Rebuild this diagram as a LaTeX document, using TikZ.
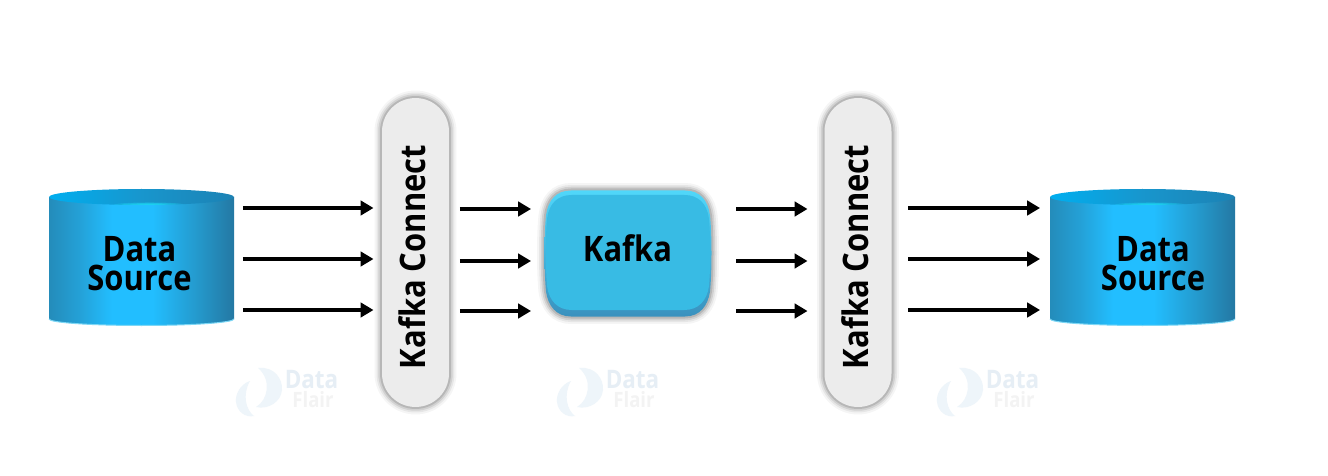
\documentclass[tikz,border=0pt]{standalone}
\usepackage{fontspec}
\setmainfont{Open Sans}[FakeStretch=.88]
\usepackage{tikz}
\usetikzlibrary{arrows.meta,positioning}
\definecolor{PillGrey}{RGB}{236,236,236}
\definecolor{KafkaFace}{RGB}{56,187,228}
\definecolor{KafkaTop}{RGB}{80,215,250}
\definecolor{KafkaLow}{RGB}{58,145,190}
\definecolor{MarkBlue}{RGB}{238,245,250}
\definecolor{MarkWord}{RGB}{230,238,245}
\definecolor{MarkGrey}{RGB}{243,243,243}
\definecolor{RimLight}{RGB}{125,215,245}
\definecolor{CylGlow}{RGB}{30,228,252}
\pgfdeclarehorizontalshading{cylbody}{100bp}{color(0bp)=(rgb,255:red,36;green,140;blue,186);color(25bp)=(rgb,255:red,36;green,140;blue,186);color(33bp)=(rgb,255:red,36;green,160;blue,214);color(42bp)=(rgb,255:red,34;green,190;blue,255);color(53bp)=(rgb,255:red,34;green,190;blue,255);color(66bp)=(rgb,255:red,36;green,150;blue,200);color(75bp)=(rgb,255:red,36;green,120;blue,163);color(100bp)=(rgb,255:red,36;green,120;blue,163)}
\pgfdeclarehorizontalshading{cyltop}{100bp}{color(0bp)=(rgb,255:red,0;green,174;blue,239);color(25bp)=(rgb,255:red,0;green,174;blue,239);color(50bp)=(rgb,255:red,24;green,150;blue,205);color(75bp)=(rgb,255:red,28;green,130;blue,180);color(100bp)=(rgb,255:red,28;green,130;blue,180)}
\newcommand{\kafkaoutline}{(57,-63) .. controls (72,-63) and (80,-53) .. (82,-38) .. controls (84,-18) and (84,17) .. (82,38) .. controls (80,52) and (72,63) .. (57,63) -- (-57,63) .. controls (-72,63) and (-80,52) .. (-82,38) .. controls (-84,17) and (-84,-18) .. (-82,-38) .. controls (-80,-53) and (-72,-63) .. (-57,-63) -- cycle}
\tikzset{
  softhalo/.style={
    preaction={draw=black,draw opacity=.04,line width=3mm},
    preaction={draw=black,draw opacity=.06,line width=2.2mm},
    preaction={draw=black,draw opacity=.09,line width=1.5mm},
    preaction={draw=black,draw opacity=.12,line width=.8mm}},
  pill/.style={rectangle,rounded corners=.67cm,fill=PillGrey,softhalo,minimum width=1.34cm,minimum height=6.18cm,inner sep=0pt,outer sep=0pt},
  bigword/.style={font=\fontsize{20}{16.5}\selectfont\bfseries,align=center,inner sep=0pt,outer sep=0pt},
  holder/.style={rectangle,minimum width=3.7cm,minimum height=2.72cm,inner sep=0pt,outer sep=0pt},
  flow/.style={line width=.7mm,-{Triangle[length=2.6mm,width=2.9mm]}},
  markword/.style={font=\fontsize{14.5}{14.5}\selectfont\bfseries,inner sep=0pt},
  marksmall/.style={font=\fontsize{12}{12}\selectfont\bfseries,inner sep=0pt}
}
\begin{document}
\begin{tikzpicture}[x=.02cm,y=-.02cm]
  \useasboundingbox (0,0) rectangle (1328,476);
  \fill[white] (0,0) rectangle (1328,476);
  \foreach \i/\dx in {1/0,2/321,3/701}{
    \begin{scope}[shift={(\dx,0)}]
      \fill[MarkBlue] (258,368) .. controls (275,366) and (283,380) .. (282,390) .. controls (281,402) and (268,410) .. (256,407) .. controls (268,400) and (272,380) .. (258,368) -- cycle;
      \fill[MarkBlue] (250,381) .. controls (240,384) and (235,395) .. (236,402) .. controls (237,412) and (246,418) .. (254,416) .. controls (246,410) and (242,395) .. (250,381) -- cycle;
      \node[markword,MarkWord] (markdata\i) at (311.5,379.5){Data};
      \node[marksmall,MarkGrey] (markflair\i) at (313,400){Flair};
    \end{scope}
  }
  \foreach \nm/\cx/\tx in {sourceL/141.5/139.5,sourceR/1142.5/1153}{
    \begin{scope}[shift={(\cx,0)}]
      \shade[shading=cylbody] (-92.5,197) -- (-92.5,319) .. controls (-92.5,322.6) and (-51,325.5) .. (0,325.5) .. controls (51,325.5) and (92.5,322.6) .. (92.5,319) -- (92.5,197) -- cycle;
      \draw[RimLight,line width=.2mm] (-92.5,319) .. controls (-92.5,322.6) and (-51,325.5) .. (0,325.5) .. controls (51,325.5) and (92.5,322.6) .. (92.5,319);
      \shade[shading=cyltop] (0,197) ellipse (92.5 and 8);
      \begin{scope}
        \clip (0,197) ellipse (92.5 and 8);
        \foreach \r in {12,20,28,36}{\fill[CylGlow,opacity=.3] (8,205) ellipse ({\r} and {\r*.07});}
      \end{scope}
    \end{scope}
    \node[holder] (\nm) at (\cx,257){};
    \node[bigword] (\nm word) at (\tx,264){Data\\Source};
  }
  \foreach \nm/\cx in {connectL/415.5,connectR/858}{
    \node[pill] (\nm) at (\cx,252.5){};
    \node[bigword,rotate=90] (\nm word) at (\cx-3,257){Kafka Connect};
  }
  \begin{scope}[shift={(628,253.5)}]
    \shade[softhalo,top color=KafkaTop,bottom color=KafkaLow] \kafkaoutline;
    \begin{scope}[shift={(0,-1)},yscale=.913,xscale=.985]
      \fill[KafkaFace] \kafkaoutline;
    \end{scope}
  \end{scope}
  \node[bigword,minimum width=3.4cm] (kafka) at (627.5,248){Kafka};
  \foreach \y in {208,259,310}{
    \draw[flow,shorten <=1.8mm,shorten >=1.7mm] (sourceL.east |- 0,\y) -- (connectL.west |- 0,\y);
    \draw[flow,shorten <=3.3mm,shorten >=2mm] (connectR.east |- 0,\y) -- (sourceR.west |- 0,\y);
  }
  \foreach \y in {209,261,311}{
    \draw[flow,shorten <=2.2mm,shorten >=2.3mm] (connectL.east |- 0,\y) -- (kafka.west |- 0,\y);
    \draw[flow,shorten <=4.8mm,shorten >=3.4mm] (kafka.east |- 0,\y) -- (connectR.west |- 0,\y);
  }
\end{tikzpicture}
\end{document}
